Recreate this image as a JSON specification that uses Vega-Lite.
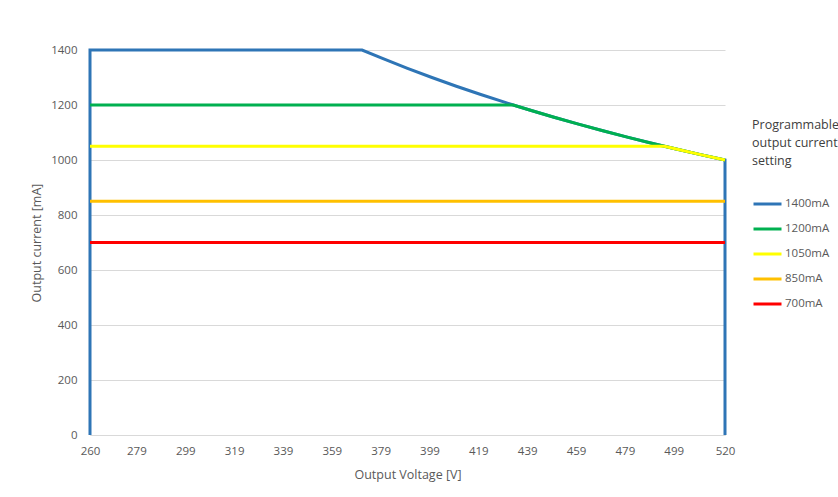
{
  "$schema": "https://vega.github.io/schema/vega-lite/v6.json",
  "autosize": "none",
  "width": 635,
  "height": 385,
  "padding": {"left": 90, "top": 50, "right": 113, "bottom": 62},
  "background": "white",
  "config": {
    "font": "Open Sans",
    "view": {"stroke": null},
    "axis": {"labelColor": "#595959", "titleColor": "#595959", "labelFontSize": 11.5, "titleFontSize": 12.5, "titleFontWeight": "normal", "ticks": false, "gridColor": "#d9d9d9", "domainColor": "#d9d9d9", "labelFlush": false, "labelBound": false}
  },
  "data": {"values": [
    {"s": "1400mA", "v": 260, "i": 0, "o": 0},
    {"s": "1400mA", "v": 260, "i": 1400, "o": 1},
    {"s": "1400mA", "v": 371.4, "i": 1400, "o": 2},
    {"s": "1400mA", "v": 380, "i": 1368.4, "o": 3},
    {"s": "1400mA", "v": 390, "i": 1333.3, "o": 4},
    {"s": "1400mA", "v": 400, "i": 1300, "o": 5},
    {"s": "1400mA", "v": 410, "i": 1268.3, "o": 6},
    {"s": "1400mA", "v": 420, "i": 1238.1, "o": 7},
    {"s": "1400mA", "v": 430, "i": 1209.3, "o": 8},
    {"s": "1400mA", "v": 433.3, "i": 1200, "o": 9},
    {"s": "1400mA", "v": 440, "i": 1181.8, "o": 10},
    {"s": "1400mA", "v": 450, "i": 1155.6, "o": 11},
    {"s": "1400mA", "v": 460, "i": 1130.4, "o": 12},
    {"s": "1400mA", "v": 470, "i": 1106.4, "o": 13},
    {"s": "1400mA", "v": 480, "i": 1083.3, "o": 14},
    {"s": "1400mA", "v": 490, "i": 1061.2, "o": 15},
    {"s": "1400mA", "v": 495.2, "i": 1050, "o": 16},
    {"s": "1400mA", "v": 500, "i": 1040, "o": 17},
    {"s": "1400mA", "v": 510, "i": 1019.6, "o": 18},
    {"s": "1400mA", "v": 520, "i": 1000, "o": 19},
    {"s": "1400mA", "v": 520, "i": 0, "o": 20},
    {"s": "1200mA", "v": 260, "i": 1200, "o": 0},
    {"s": "1200mA", "v": 433.3, "i": 1200, "o": 1},
    {"s": "1200mA", "v": 440, "i": 1181.8, "o": 2},
    {"s": "1200mA", "v": 450, "i": 1155.6, "o": 3},
    {"s": "1200mA", "v": 460, "i": 1130.4, "o": 4},
    {"s": "1200mA", "v": 470, "i": 1106.4, "o": 5},
    {"s": "1200mA", "v": 480, "i": 1083.3, "o": 6},
    {"s": "1200mA", "v": 490, "i": 1061.2, "o": 7},
    {"s": "1200mA", "v": 495.2, "i": 1050, "o": 8},
    {"s": "1200mA", "v": 500, "i": 1040, "o": 9},
    {"s": "1200mA", "v": 510, "i": 1019.6, "o": 10},
    {"s": "1200mA", "v": 520, "i": 1000, "o": 11},
    {"s": "1050mA", "v": 260, "i": 1050, "o": 0},
    {"s": "1050mA", "v": 495.2, "i": 1050, "o": 1},
    {"s": "1050mA", "v": 500, "i": 1040, "o": 2},
    {"s": "1050mA", "v": 510, "i": 1019.6, "o": 3},
    {"s": "1050mA", "v": 520, "i": 1000, "o": 4},
    {"s": "850mA", "v": 260, "i": 850, "o": 0},
    {"s": "850mA", "v": 520, "i": 850, "o": 1},
    {"s": "700mA", "v": 260, "i": 700, "o": 0},
    {"s": "700mA", "v": 520, "i": 700, "o": 1}
  ]},
  "encoding": {
    "x": {"field": "v", "type": "quantitative", "scale": {"domain": [260, 520], "nice": false, "zero": false},
      "axis": {"values": [260, 279, 299, 319, 339, 359, 379, 399, 419, 439, 459, 479, 499, 520], "format": "d", "grid": false, "title": "Output Voltage [V]", "labelPadding": 10, "titlePadding": 12}},
    "y": {"field": "i", "type": "quantitative", "scale": {"domain": [0, 1400], "nice": false},
      "axis": {"values": [0, 200, 400, 600, 800, 1000, 1200, 1400], "format": "d", "domain": false, "title": "Output current [mA]", "labelPadding": 13, "titlePadding": 7}},
    "order": {"field": "o", "type": "quantitative"},
    "color": {"field": "s", "type": "nominal",
      "scale": {"domain": ["1400mA", "1200mA", "1050mA", "850mA", "700mA"], "range": ["#2E75B6", "#00B050", "#FFFF00", "#FFC000", "#FF0000"]},
      "legend": {"title": ["Programmable", "output current", "setting"], "orient": "none", "legendX": 662, "legendY": 69,
        "titleFontSize": 12.5, "titleFontWeight": "normal", "titleColor": "#404040", "titlePadding": 21, "titleLineHeight": 18,
        "labelFontSize": 11.5, "labelColor": "#595959", "symbolType": "stroke", "symbolStrokeWidth": 3, "symbolSize": 784, "rowPadding": 3, "labelOffset": 2, "offset": 0, "padding": 0}}
  },
  "layer": [
    {"transform": [{"filter": "datum.s == '1400mA'"}], "mark": {"type": "line", "strokeWidth": 3}},
    {"transform": [{"filter": "datum.s == '1200mA'"}], "mark": {"type": "line", "strokeWidth": 3}},
    {"transform": [{"filter": "datum.s == '1050mA'"}], "mark": {"type": "line", "strokeWidth": 3}},
    {"transform": [{"filter": "datum.s == '850mA'"}], "mark": {"type": "line", "strokeWidth": 3}},
    {"transform": [{"filter": "datum.s == '700mA'"}], "mark": {"type": "line", "strokeWidth": 3}}
  ]
}
